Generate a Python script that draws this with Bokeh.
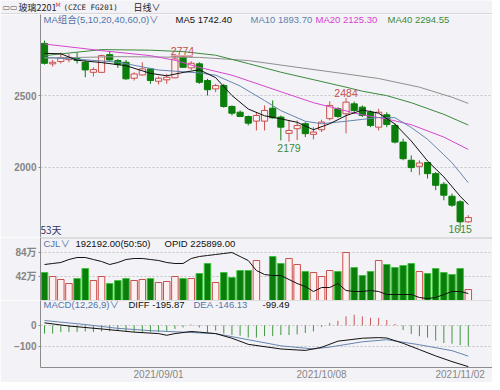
from bokeh.plotting import figure
from bokeh.models import Range1d, FixedTicker, Label, Span, ColumnDataSource
from bokeh.layouts import column
from bokeh.embed import file_html
from bokeh.resources import INLINE

# ---------------- data ----------------
opens = [2862, 2720, 2736, 2749, 2756, 2731, 2661, 2661, 2784, 2743,
         2731, 2620, 2643, 2685, 2599, 2609, 2623, 2765, 2692, 2720,
         2604, 2546, 2569, 2424, 2384, 2354, 2322, 2322, 2412, 2350,
         2237, 2269, 2304, 2230, 2262, 2339, 2408, 2373, 2442, 2419,
         2384, 2280, 2366, 2292, 2176, 2050, 2008, 2034, 1957, 1883,
         1800, 1761, 1622]
highs = [2881, 2747, 2798, 2789, 2798, 2743, 2696, 2784, 2807, 2754,
         2747, 2661, 2731, 2692, 2632, 2650, 2774, 2770, 2738, 2731,
         2616, 2581, 2581, 2431, 2396, 2361, 2384, 2431, 2466, 2361,
         2327, 2327, 2315, 2280, 2332, 2460, 2419, 2484, 2458, 2431,
         2396, 2408, 2384, 2306, 2200, 2084, 2050, 2038, 1968, 1899,
         1819, 1772, 1668]
lows = [2715, 2701, 2722, 2731, 2722, 2627, 2632, 2659, 2743, 2692,
        2609, 2604, 2639, 2581, 2576, 2581, 2620, 2692, 2678, 2581,
        2500, 2523, 2415, 2361, 2350, 2292, 2257, 2257, 2339, 2188,
        2179, 2190, 2211, 2195, 2246, 2327, 2345, 2237, 2373, 2350,
        2280, 2257, 2280, 2167, 2050, 1968, 1946, 1923, 1842, 1772,
        1726, 1615, 1616]
closes = [2724, 2731, 2763, 2765, 2743, 2678, 2680, 2777, 2747, 2715,
          2616, 2650, 2685, 2604, 2620, 2627, 2754, 2696, 2724, 2592,
          2540, 2569, 2424, 2377, 2354, 2308, 2361, 2396, 2345, 2280,
          2257, 2292, 2235, 2246, 2315, 2431, 2354, 2454, 2396, 2361,
          2292, 2384, 2299, 2176, 2061, 1999, 2031, 1957, 1876, 1807,
          1738, 1622, 1652]
# volume in 万
volumes = [49, 42, 36.75, 29.75, 38.5, 56, 35, 42, 29.75, 35,
           38.5, 35, 36.75, 38.5, 31.5, 33.25, 42, 38.5, 38.5, 47.25,
           64.75, 31.5, 49, 40.25, 52.5, 52.5, 70, 0, 77, 64.75,
           73.5, 63, 50.75, 49, 42, 52.5, 50.75, 84, 57.75, 43.75,
           50.75, 70, 63, 57.75, 61.25, 64.75, 50.75, 47.25, 56, 49,
           45.5, 56, 19.2192]
# open interest in 万
opid = [32.74, 33.09, 33.44, 34.49, 35.19, 35.19, 34.49, 33.79, 32.74, 33.44,
        34.49, 34.84, 34.84, 34.49, 34.14, 33.44, 33.09, 33.09, 34.84, 35.54,
        35.89, 36.24, 36.59, 36.94, 35.54, 34.14, 30.64, 29.24, 28.89, 28.89,
        27.49, 26.09, 25.04, 23.29, 24.69, 24.69, 26.09, 23.64, 23.29, 23.29,
        23.64, 23.29, 22.24, 22.24, 22.24, 22.24, 21.19, 20.84, 21.19, 22.24,
        23.29, 23.29, 22.5899]
macd_hist = [-39, -39, -32, -32, -32, -29, -32, -29, -28, -25,
             -29, -32, -35, -32, -32, -29, -17, -10, 4, -10,
             -32, -25, -39, -46, -49, -58, -58, -51, -51, -46,
             -46, -43, -36, -29, -7, 12, 22, 43, 51, 43,
             36, 36, 26, 7, -22, -41, -51, -58, -72, -84,
             -87, -94, -99.49]

ma5_i = [1, 3, 5, 8, 11, 14, 16, 18, 20, 22, 24, 26, 28, 30, 32, 34, 36, 38, 40, 42, 44, 46, 48, 50, 52, 53]
ma5_v = [2793, 2790, 2745, 2729, 2707, 2654, 2637, 2660, 2679, 2624, 2500, 2406, 2359, 2338, 2314, 2262, 2304,
         2360, 2399, 2377, 2302, 2184, 2045, 1934, 1800, 1742.40]
ma10_i = [1, 5, 10, 15, 20, 22, 25, 28, 30, 33, 35, 38, 40, 42, 44, 46, 48, 50, 51, 53]
ma10_v = [2765, 2752, 2732, 2677, 2657, 2641, 2566, 2465, 2395, 2321, 2304, 2321, 2334, 2347, 2346, 2278, 2196,
          2088, 2033, 1893.70]
ma20_i = [1, 8, 14, 17, 20, 24, 26, 30, 34, 38, 40, 43, 46, 50, 53]
ma20_v = [2858, 2812, 2777, 2745, 2695, 2641, 2603, 2526, 2450, 2393, 2365, 2337, 2297, 2211, 2125.30]
ma40_i = [1, 4, 8, 14, 18, 22, 26, 30, 34, 38, 40, 43, 46, 50, 53]
ma40_v = [2777, 2795, 2819, 2815, 2805, 2780, 2722, 2662, 2610, 2558, 2530, 2499, 2450, 2369, 2294.55]
ma60_i = [1, 10, 20, 26, 32, 38, 42, 47, 51, 53]
ma60_v = [2760, 2770, 2765, 2743, 2696, 2650, 2618, 2558, 2488, 2445]

diff_i = [1, 4, 8, 12, 15, 16, 17, 19, 20, 22, 24, 26, 30, 33, 35, 37, 40, 42, 43, 45, 47, 49, 51, 53]
diff_v = [12, -3, -17, -32, -39, -47, -39, -29, -32, -39, -61, -90, -112, -119, -104, -75, -61, -58, -60,
          -85, -115, -145, -172, -195.87]
dea_i = [1, 6, 10, 14, 18, 22, 26, 30, 34, 36, 40, 43, 47, 51, 53]
dea_v = [23, 4, -14, -25, -32, -39, -68, -97, -112, -103, -78, -68, -92, -120, -146.13]

date_ticks = [15, 35, 52]
date_labels = ["2021/09/01", "2021/10/08", "2021/11/02"]
high_marks = [17, 38]
low_marks = [31, 52]
days_label = "53天"

# ---------------- styles ----------------
FONT = "Liberation Sans, Noto Sans CJK SC"
CJK = "Noto Sans CJK SC"
BG = "#f3f3f7"
UP_LINE = "#c8504e"
UP_FILL = "#fdf0f0"
DN = "#0b7d0b"
DN_EDGE = "#3fc23f"
BLUE = "#5474a8"
W = 492
LEFT = 40

n = len(closes)
idx = list(range(1, n + 1))
up = [c >= o for o, c in zip(opens, closes)]

xr = Range1d(0.509, 55.97)


def panel(h, yr, bottom=0, xaxis=False):
    p = figure(width=W, height=h, x_range=xr, y_range=yr, output_backend="svg",
               toolbar_location=None, x_axis_location="below" if xaxis else None,
               min_border_left=LEFT, min_border_right=0, min_border_top=0,
               min_border_bottom=bottom)
    p.background_fill_color = BG
    p.border_fill_color = BG
    p.outline_line_color = None
    p.xgrid.visible = False
    ya = p.yaxis[0]
    ya.axis_line_color = "#8c8c8c"
    ya.major_tick_line_color = "#8c8c8c"
    ya.major_tick_out = 2
    ya.major_tick_in = 0
    ya.minor_tick_line_color = None
    ya.major_label_text_font = FONT
    ya.major_label_text_font_size = "10px"
    ya.major_label_text_font_style = "bold"
    ya.major_label_text_color = "#858585"
    ya.major_label_standoff = 2
    p.ygrid.grid_line_color = "#c4c4c4"
    p.ygrid.grid_line_dash = "2 2"
    return p


def lab(p, x, y, text, color, size="9.5px", font=FONT, baseline="middle", align="left", units="screen"):
    p.add_layout(Label(x=x, y=y, x_units=units, y_units=units, text=text,
                       text_color=color, text_font=font, text_font_size=size,
                       text_baseline=baseline, text_align=align))


# ---------------- header ----------------
HEAD_H = 14
fh = figure(width=W, height=HEAD_H, x_range=Range1d(0, W), y_range=Range1d(0, HEAD_H),
            output_backend="svg", toolbar_location=None, x_axis_location=None,
            y_axis_location=None, min_border=0)
fh.background_fill_color = BG
fh.border_fill_color = BG
fh.outline_line_color = None
fh.grid.visible = False
fh.add_layout(Span(location=0.5, dimension="width", line_color="#bdbdbd", line_width=1))
lab(fh, 2, 7, "▭▭", "#555555", size="8px", font="DejaVu Sans", units="canvas")
lab(fh, 18, 7, "玻璃2201", "#222222", size="9px", font=CJK, units="canvas")
lab(fh, 55, 7, "M", "#d04040", size="6px", font="DejaVu Sans", baseline="bottom", units="canvas")
lab(fh, 63, 7, "(CZCE FG201)", "#222222", size="7.5px", font="DejaVu Sans Mono", units="canvas")
lab(fh, 133, 7, "日线∨", "#222222", size="9px", font=CJK, units="canvas")

# ---------------- main candle panel ----------------
MAIN_H = 223
fm = panel(MAIN_H, Range1d(1513.1, 3063.0))
fm.yaxis.ticker = FixedTicker(ticks=[2000, 2500])
fm.ygrid.ticker = FixedTicker(ticks=[2000, 2500])

src = ColumnDataSource(dict(
    x=idx, o=opens, h=highs, l=lows, c=closes,
    top=[max(o, c) for o, c in zip(opens, closes)],
    bot=[min(o, c) for o, c in zip(opens, closes)],
    line=[UP_LINE if u else DN for u in up],
    fill=[UP_FILL if u else DN for u in up],
))
fm.segment(x0="x", y0="l", x1="x", y1="h", line_color="line", line_width=1, source=src)
fm.vbar(x="x", top="top", bottom="bot", width=0.76, fill_color="fill", line_color="line",
        line_width=1, source=src)

fm.line(ma60_i, ma60_v, line_color="#8f8f8f", line_width=1)
fm.line(ma40_i, ma40_v, line_color="#3b8a3b", line_width=1)
fm.line(ma20_i, ma20_v, line_color="#d646cf", line_width=1)
fm.line(ma10_i, ma10_v, line_color="#6584b0", line_width=1)
fm.line(ma5_i, ma5_v, line_color="#111111", line_width=1)

ty = MAIN_H - 5
lab(fm, 3, ty, "MA组合(5,10,20,40,60,0)∨", BLUE)
lab(fm, 135, ty, f"MA5 {ma5_v[-1]:.2f}", "#111111")
lab(fm, 210, ty, f"MA10 {ma10_v[-1]:.2f}", "#5f7fae")
lab(fm, 275, ty, f"MA20 {ma20_v[-1]:.2f}", "#d83fd0")
lab(fm, 347, ty, f"MA40 {ma40_v[-1]:.2f}", "#3b8a3b")
lab(fm, 0, 1, days_label, "#333366", size="10px", baseline="bottom", font=CJK)

for k in high_marks:
    hv = highs[k - 1]
    if k == high_marks[0]:
        fm.segment(x0=[k - 0.5], y0=[hv], x1=[k + 2.2], y1=[hv], line_color="#c0504d", line_width=1)
        fm.add_layout(Label(x=k - 0.5, y=hv, text=str(hv), text_color="#c0504d", text_font=FONT,
                            text_font_size="10.5px", text_baseline="bottom", text_align="left",
                            y_offset=1))
    else:
        fm.add_layout(Label(x=k, y=hv, text=str(hv), text_color="#c0504d", text_font=FONT,
                            text_font_size="10.5px", text_baseline="bottom", text_align="center",
                            y_offset=1))
for k in low_marks:
    lv = lows[k - 1]
    fm.add_layout(Label(x=k, y=lv, text=str(lv), text_color="#3c8a3c", text_font=FONT,
                        text_font_size="10.5px", text_baseline="top", text_align="center",
                        y_offset=-2))
k = low_marks[-1]
fm.segment(x0=[k], y0=[lows[k - 1]], x1=[k], y1=[lows[k - 1] - 55], line_color="#3c8a3c", line_width=1)

# ---------------- volume panel ----------------
VOL_H = 63
fv = panel(VOL_H, Range1d(0, 110.25))
fv.extra_y_ranges = {"opid": Range1d(20.14, 42.19)}
fv.yaxis.ticker = FixedTicker(ticks=[42, 84])
fv.ygrid.ticker = FixedTicker(ticks=[42, 84])
fv.yaxis.major_label_overrides = {42: "42万", 84: "84万"}
vsrc = ColumnDataSource(dict(
    x=idx, v=volumes,
    line=[UP_LINE if u else DN_EDGE for u in up],
    fill=[UP_FILL if u else DN for u in up],
))
fv.vbar(x="x", top="v", bottom=0, width=0.8, fill_color="fill", line_color="line",
        line_width=1, source=vsrc)
fv.line(idx, opid, line_color="#111111", line_width=1, y_range_name="opid")
fv.add_layout(Span(location=110.25, dimension="width", line_color="#c4c4c4", line_width=2))
lab(fv, 3, VOL_H - 6, "CJL∨", BLUE)
lab(fv, 35, VOL_H - 6, f"{volumes[-1] * 10000:.2f}(50:50)", "#111111")
lab(fv, 124, VOL_H - 6, f"OPID {opid[-1] * 10000:.2f}", "#111111")

# ---------------- MACD panel ----------------
MACD_H = 82
fd = panel(MACD_H, Range1d(-200.0, 118.2), bottom=12, xaxis=True)
fd.yaxis.ticker = FixedTicker(ticks=[-100, 0])
fd.ygrid.ticker = FixedTicker(ticks=[-100, 0])
xa = fd.xaxis[0]
xa.ticker = FixedTicker(ticks=date_ticks)
xa.major_label_overrides = {t: s for t, s in zip(date_ticks, date_labels)}
xa.axis_line_color = "#8c8c8c"
xa.major_tick_line_color = None
xa.minor_tick_line_color = None
xa.major_tick_out = 0
xa.major_label_standoff = 1
xa.major_label_text_font = FONT
xa.major_label_text_font_size = "10px"
xa.major_label_text_color = "#858585"

hsrc = ColumnDataSource(dict(
    x=idx, y0=[0] * n, y1=macd_hist,
    col=["#c85a5a" if v > 0 else "#3c9a3c" for v in macd_hist],
))
fd.segment(x0="x", y0="y0", x1="x", y1="y1", line_color="col", line_width=1, source=hsrc)
fd.line(dea_i, dea_v, line_color="#6584b0", line_width=1)
fd.line(diff_i, diff_v, line_color="#111111", line_width=1)
fd.add_layout(Span(location=118.2, dimension="width", line_color="#c4c4c4", line_width=1))
mty = 70 - 7
lab(fd, 3, mty, "MACD(12,26,9)∨", BLUE)
lab(fd, 88, mty, f"DIFF {diff_v[-1]:.2f}", "#111111")
lab(fd, 153, mty, f"DEA {dea_v[-1]:.2f}", BLUE)
lab(fd, 222, mty, f"{macd_hist[-1]:.2f}", "#111111")

layout = column(fh, column(fm, fv, fd, spacing=0), spacing=0)
open("out.html", "w").write(file_html(layout, INLINE))
